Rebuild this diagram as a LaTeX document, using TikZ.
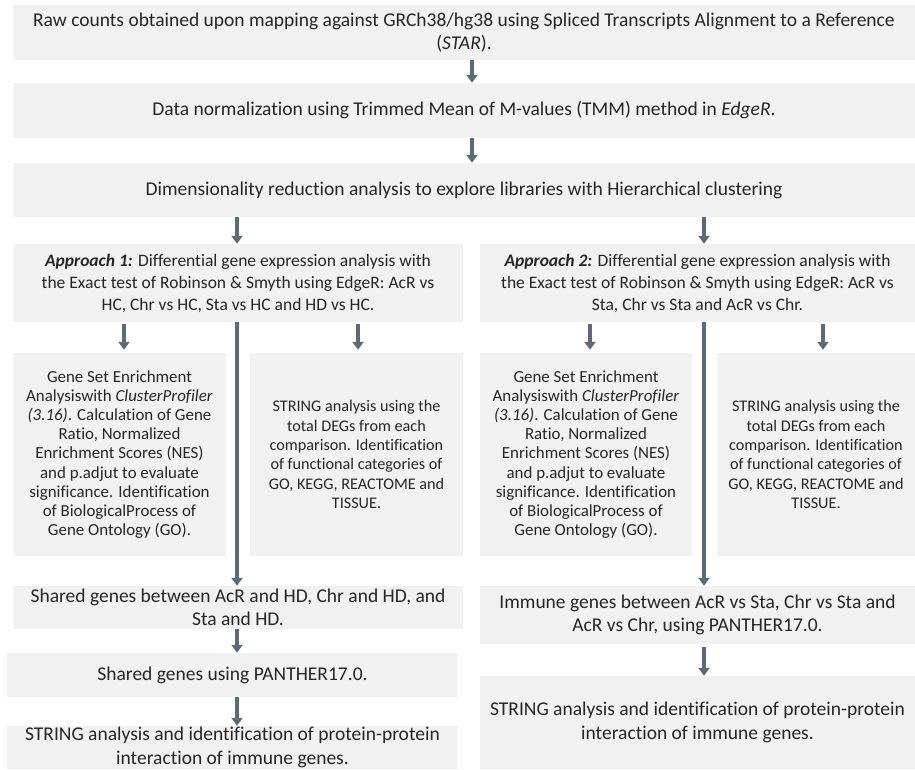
\documentclass[tikz,border=0pt]{standalone}
\usepackage{fontspec}
\setmainfont{Carlito}[Ligatures={NoCommon}]
\usetikzlibrary{arrows.meta}

\definecolor{boxgray}{HTML}{F2F2F2}
\definecolor{arrowgray}{HTML}{5E6A76}
\definecolor{textgray}{HTML}{262626}

\tikzset{
    box/.style={fill=boxgray, text=textgray, inner sep=0pt, align=center},
    bigtext/.style={font=\fontsize{19.5pt}{23.5pt}\selectfont},
    midtext/.style={font=\fontsize{17.5pt}{22pt}\selectfont},
    smalltext/.style={font=\fontsize{16.2pt}{19.3pt}\selectfont},
    gseatext/.style={font=\fontsize{16.9pt}{19.2pt}\selectfont},
    arr/.style={draw=arrowgray, line width=4pt, -{Triangle[width=11pt,length=8pt]}}
}

\begin{document}
\begin{tikzpicture}[x=1pt, y=-1pt]
    \useasboundingbox (0, 0) rectangle (915, 769);

    % common steps
    \node[box, bigtext, minimum width=902pt, minimum height=55pt] (raw) at (464, 32.5)
        {Raw counts obtained upon mapping against GRCh38/hg38 using Spliced Transcripts Alignment to a Reference\\(\textit{STAR}).};
    \node[box, bigtext, minimum width=902pt, minimum height=55pt] (norm) at (464, 110.5)
        {Data normalization using Trimmed Mean of M-values (TMM) method in \textit{EdgeR}.};
    \node[box, bigtext, minimum width=902pt, minimum height=54pt] (dim) at (464, 190)
        {Dimensionality reduction analysis to explore libraries with Hierarchical clustering};

    % approach 1
    \node[box, midtext, minimum width=450pt, minimum height=78pt] (appA) at (238, 283)
        {\textbf{\textit{Approach 1:}} Differential gene expression analysis with\\the Exact test of Robinson \& Smyth using EdgeR: AcR vs\\HC, Chr vs HC, Sta vs HC and HD vs HC.};
    \node[box, gseatext, minimum width=213pt, minimum height=203pt] (gseaA) at (119.5, 454.5)
        {Gene Set Enrichment\\Analysiswith \textit{ClusterProfiler}\\\textit{(3.16)}. Calculation of Gene\\Ratio, Normalized\\Enrichment Scores (NES)\\and p.adjut to evaluate\\significance. Identification\\of BiologicalProcess of\\Gene Ontology (GO).};
    \node[box, smalltext, minimum width=213pt, minimum height=203pt] (stringA) at (356.5, 454.5)
        {STRING analysis using the\\total DEGs from each\\comparison. Identification\\of functional categories of\\GO, KEGG, REACTOME and\\TISSUE.};
    \node[box, bigtext, minimum width=450pt, minimum height=43pt] (sharedA) at (238, 607.5)
        {Shared genes between AcR and HD, Chr and HD, and\\Sta and HD.};
    \node[box, bigtext, minimum width=451pt, minimum height=44pt] (pantherA) at (232.5, 675)
        {Shared genes using PANTHER17.0.};
    \node[box, bigtext, minimum width=451pt, minimum height=43pt] (ppiA) at (232.5, 747.5)
        {STRING analysis and identification of protein-protein\\interaction of immune genes.};

    % approach 2
    \node[box, midtext, minimum width=435pt, minimum height=78pt] (appB) at (697.5, 283)
        {\textbf{\textit{Approach 2:}} Differential gene expression analysis with\\the Exact test of Robinson \& Smyth using EdgeR: AcR vs\\Sta, Chr vs Sta and AcR vs Chr.};
    \node[box, gseatext, minimum width=212pt, minimum height=203pt] (gseaB) at (586, 454.5)
        {Gene Set Enrichment\\Analysiswith \textit{ClusterProfiler}\\\textit{(3.16)}. Calculation of Gene\\Ratio, Normalized\\Enrichment Scores (NES)\\and p.adjut to evaluate\\significance. Identification\\of BiologicalProcess of\\Gene Ontology (GO).};
    \node[box, smalltext, minimum width=198pt, minimum height=203pt] (stringB) at (816, 454.5)
        {STRING analysis using the\\total DEGs from each\\comparison. Identification\\of functional categories of\\GO, KEGG, REACTOME and\\TISSUE.};
    \node[box, bigtext, minimum width=435pt, minimum height=58pt] (immB) at (697.5, 615)
        {Immune genes between AcR vs Sta, Chr vs Sta and\\AcR vs Chr, using PANTHER17.0.};
    \node[box, bigtext, minimum width=435pt, minimum height=93pt] (ppiB) at (697.5, 722.5)
        {STRING analysis and identification of protein-protein\\interaction of immune genes.};

    % arrow columns
    \coordinate (colM) at (472, 0);
    \coordinate (colA) at (237, 0);
    \coordinate (colB) at (704, 0);

    \draw[arr] (raw.south -| colM) -- (norm.north -| colM);
    \draw[arr] (norm.south -| colM) -- (dim.north -| colM);
    \draw[arr] (dim.south -| colA) -- (appA.north -| colA);
    \draw[arr] (dim.south -| colB) -- (appB.north -| colB);

    \draw[arr, shorten <=2pt, shorten >=3pt] ([xshift=4.5pt]gseaA.north |- appA.south) -- ([xshift=4.5pt]gseaA.north);
    \draw[arr, shorten <=2pt, shorten >=3pt] ([xshift=1.5pt]stringA.north |- appA.south) -- ([xshift=1.5pt]stringA.north);
    \draw[arr, shorten <=2pt, shorten >=3pt] ([xshift=4pt]gseaB.north |- appB.south) -- ([xshift=4pt]gseaB.north);
    \draw[arr, shorten <=2pt, shorten >=3pt] ([xshift=7pt]stringB.north |- appB.south) -- ([xshift=7pt]stringB.north);

    \draw[arr] (appA.south -| colA) -- (sharedA.north -| colA);
    \draw[arr] (sharedA.south -| colA) -- (pantherA.north -| colA);
    \draw[arr] (pantherA.south -| colA) -- (ppiA.north -| colA);
    \draw[arr] (appB.south -| colB) -- (immB.north -| colB);
    \draw[arr, shorten <=3pt] (immB.south -| colB) -- (ppiB.north -| colB);
\end{tikzpicture}
\end{document}
